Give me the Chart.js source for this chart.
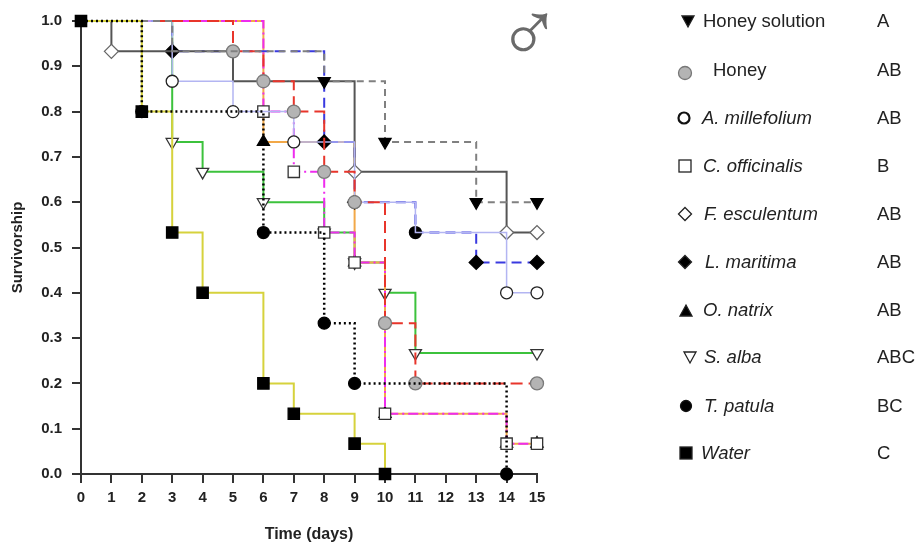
<!DOCTYPE html>
<html>
<head>
<meta charset="utf-8">
<script src="https://cdn.jsdelivr.net/npm/chart.js@4/dist/chart.umd.min.js"></script>
<style>
  body { margin: 0; background: #fff; }
  #wrap { position: relative; width: 921px; height: 552px; }
  #myChart { position: absolute; left: 0; top: 0; }
  .leg { position: absolute; font-family: "Liberation Sans", Arial, sans-serif; font-size: 18.5px; color: #222; white-space: nowrap; line-height: 22px; }
  #male { position: absolute; left: 497px; top: -11px; font-family: "DejaVu Sans", sans-serif; font-weight: 200; font-size: 86px; color: #6a6a6a; line-height: 86px; }
</style>
</head>
<body>
<div id="wrap">
  <canvas id="myChart" width="921" height="552"></canvas>
  <div id="legend"></div>
  <div id="male">♂</div>
</div>
<script>
// survivorship (15 insects per treatment)
const seriesNames = ['Honey solution', 'Honey', 'A. millefolium', 'C. officinalis', 'F. esculentum',
                     'L. maritima', 'O. natrix', 'S. alba', 'T. patula', 'Water'];
const groupLetters = ['A', 'AB', 'AB', 'B', 'AB', 'AB', 'AB', 'ABC', 'BC', 'C'];

const honeySolutionDays = [0, 3, 8, 10, 13, 15];
const honeySolutionSurv = [1.0, 0.933, 0.867, 0.733, 0.6, 0.6];

const honeyDays = [0, 5, 6, 7, 8, 9, 10, 11, 15];
const honeySurv = [1.0, 0.933, 0.867, 0.8, 0.667, 0.6, 0.333, 0.2, 0.2];

const millefoliumDays = [0, 3, 5, 7, 9, 11, 14, 15];
const millefoliumSurv = [1.0, 0.867, 0.8, 0.733, 0.6, 0.533, 0.4, 0.4];

const officinalisDays = [0, 6, 7, 8, 9, 10, 14, 15];
const officinalisSurv = [1.0, 0.8, 0.667, 0.533, 0.467, 0.133, 0.067, 0.067];

const esculentumDays = [0, 1, 5, 9, 14, 15];
const esculentumSurv = [1.0, 0.933, 0.867, 0.667, 0.533, 0.533];

const maritimaDays = [0, 3, 8, 9, 11, 13, 15];
const maritimaSurv = [1.0, 0.933, 0.733, 0.6, 0.533, 0.467, 0.467];

const natrixDays = [0, 6, 9, 10, 14, 15];
const natrixSurv = [1.0, 0.733, 0.467, 0.133, 0.067, 0.067];

const albaDays = [0, 3, 4, 6, 8, 9, 10, 11, 15];
const albaSurv = [1.0, 0.733, 0.667, 0.6, 0.533, 0.467, 0.4, 0.267, 0.267];

const patulaDays = [0, 2, 6, 8, 9, 14];
const patulaSurv = [1.0, 0.8, 0.533, 0.333, 0.2, 0.0];

const waterDays = [0, 2, 3, 4, 6, 7, 9, 10];
const waterSurv = [1.0, 0.8, 0.533, 0.4, 0.2, 0.133, 0.067, 0.0];

const yTicks = [0, 0.1, 0.2, 0.3, 0.4, 0.5, 0.6, 0.7, 0.8, 0.9, 1.0];

const allDays = [honeySolutionDays, honeyDays, millefoliumDays, officinalisDays, esculentumDays,
                 maritimaDays, natrixDays, albaDays, patulaDays, waterDays];
const allSurv = [honeySolutionSurv, honeySurv, millefoliumSurv, officinalisSurv, esculentumSurv,
                 maritimaSurv, natrixSurv, albaSurv, patulaSurv, waterSurv];

// line + marker look for each series
const looks = [
  { line: '#808080', dash: [7, 5],        w: 2,   shape: 'triangle', rot: 180, fill: '#000', edge: '#000', r: 7 },
  { line: '#e8352b', dash: [12, 6],       w: 2,   shape: 'circle',   rot: 0,   fill: '#b4b4b4', edge: '#7a7a7a', r: 6.5 },
  { line: '#b3b5f2', dash: [],            w: 1.5, shape: 'circle',   rot: 0,   fill: '#fff', edge: '#222', r: 6 },
  { line: '#ee2cee', dash: [10, 4, 2, 4], w: 2,   shape: 'rect',     rot: 0,   fill: '#fff', edge: '#333', r: 8 },
  { line: '#555555', dash: [],            w: 2,   shape: 'rectRot',  rot: 0,   fill: '#fff', edge: '#666', r: 7 },
  { line: '#3a3ae0', dash: [10, 6],       w: 2,   shape: 'rectRot',  rot: 0,   fill: '#000', edge: '#000', r: 7 },
  { line: '#f2a848', dash: [],            w: 2,   shape: 'triangle', rot: 0,   fill: '#000', edge: '#000', r: 7 },
  { line: '#3cc23c', dash: [],            w: 2,   shape: 'triangle', rot: 180, fill: '#fff', edge: '#333', r: 7 },
  { line: '#000000', dash: [2, 3],        w: 2.5, shape: 'circle',   rot: 0,   fill: '#000', edge: '#000', r: 6 },
  { line: '#d6d23c', dash: [],            w: 2,   shape: 'rect',     rot: 0,   fill: '#000', edge: '#000', r: 8 }
];
const drawOrder = [2, 3, 4, 5, 6, 7, 8, 9, 0, 1];
// markers the original hides behind others: series index -> point indices
const hiddenMarks = { 0: [1], 2: [5], 4: [2] };

const datasets = seriesNames.map((name, i) => ({
  label: name,
  data: allDays[i].map((d, k) => ({ x: d, y: allSurv[i][k] })),
  stepped: 'before',
  borderColor: looks[i].line,
  borderDash: looks[i].dash,
  borderWidth: looks[i].w,
  pointStyle: (c) => (i === 5 && c.dataIndex === 4) ? 'circle' : looks[i].shape,
  rotation: looks[i].rot,
  pointBackgroundColor: looks[i].fill,
  pointBorderColor: looks[i].edge,
  pointBorderWidth: 1.3,
  pointRadius: (c) => {
    if (c.dataIndex === 0 && i !== 9) return 0;
    if ((hiddenMarks[i] || []).includes(c.dataIndex)) return 0;
    return (i === 5 && c.dataIndex === 4) ? 6 : looks[i].r;
  },
  pointHoverRadius: looks[i].r,
  fill: false,
  clip: false,
  order: drawOrder[i]
}));

const tickFont = { family: '"Liberation Sans", Arial, sans-serif', size: 15, weight: 'bold' };

const chart = new Chart(document.getElementById('myChart'), {
  type: 'line',
  data: { datasets: datasets },
  options: {
    responsive: false,
    animation: false,
    layout: { padding: { left: 0, top: 21, right: 384, bottom: 0 } },
    plugins: { legend: { display: false }, tooltip: { enabled: false } },
    scales: {
      x: {
        type: 'linear', min: 0, max: 15,
        afterFit: (s) => { s.height = 78; },
        ticks: { stepSize: 1, font: tickFont, color: '#222', padding: 6, maxRotation: 0 },
        grid: { drawOnChartArea: false, drawTicks: true, tickLength: 9, color: '#333', lineWidth: 2 },
        border: { color: '#333', width: 2 },
        title: { display: true, text: 'Time (days)', color: '#222',
                 font: { family: '"Liberation Sans", Arial, sans-serif', size: 16, weight: 'bold' },
                 padding: { top: 0, bottom: 8 } }
      },
      y: {
        min: 0, max: 1,
        afterFit: (s) => { s.width = 81; },
        afterBuildTicks: (s) => { s.ticks = yTicks.map(v => ({ value: v })); },
        ticks: { font: tickFont, color: '#222', padding: 10, callback: (v) => v.toFixed(1) },
        grid: { drawOnChartArea: false, drawTicks: true, tickLength: 9, color: '#333', lineWidth: 2 },
        border: { color: '#333', width: 2 },
        title: { display: true, text: 'Survivorship', color: '#222',
                 font: { family: '"Liberation Sans", Arial, sans-serif', size: 15, weight: 'bold' },
                 padding: { top: 9, bottom: 0 } }
      }
    }
  }
});

// legend on the right: marker, name, letter group
const rowY = [21, 70, 118, 166, 214, 262, 310, 357, 406, 453];
const textX = [703, 713, 702, 703, 704, 705, 703, 704, 704, 701];
const markX = [688, 685, 684, 685, 685, 685, 686, 690, 686, 686];
function markerSvg(i) {
  const L = looks[i];
  let shape = '';
  if (L.shape === 'circle') {
    shape = `<circle cx="8" cy="8" r="${i === 1 ? 6.5 : 5.5}" fill="${L.fill}" stroke="${i === 1 ? '#777' : '#111'}" stroke-width="${i === 2 ? 2.2 : 1.3}"/>`;
  } else if (L.shape === 'rect') {
    shape = `<rect x="2" y="2" width="12" height="12" fill="${L.fill}" stroke="#222" stroke-width="1.3"/>`;
  } else if (L.shape === 'rectRot') {
    shape = `<polygon points="8,1.5 14.5,8 8,14.5 1.5,8" fill="${L.fill}" stroke="#222" stroke-width="1.3"/>`;
  } else if (L.rot === 180) {
    shape = `<polygon points="2,3 14,3 8,14" fill="${L.fill}" stroke="#222" stroke-width="1.3"/>`;
  } else {
    shape = `<polygon points="2,14 14,14 8,3" fill="${L.fill}" stroke="#222" stroke-width="1.3"/>`;
  }
  const top = rowY[i] - 8 + (i === 1 ? 3 : 0);
  return `<svg width="16" height="16" viewBox="0 0 16 16" style="position:absolute;left:${markX[i] - 8}px;top:${top}px">${shape}</svg>`;
}
const leg = document.getElementById('legend');
let html = '';
seriesNames.forEach((name, i) => {
  html += markerSvg(i);
  const style = i >= 2 ? 'font-style:italic;' : '';
  html += `<div class="leg" style="left:${textX[i]}px;top:${rowY[i] - 11}px;${style}">${name}</div>`;
  html += `<div class="leg" style="left:877px;top:${rowY[i] - 11}px;">${groupLetters[i]}</div>`;
});
leg.innerHTML = html;
</script>
</body>
</html>
